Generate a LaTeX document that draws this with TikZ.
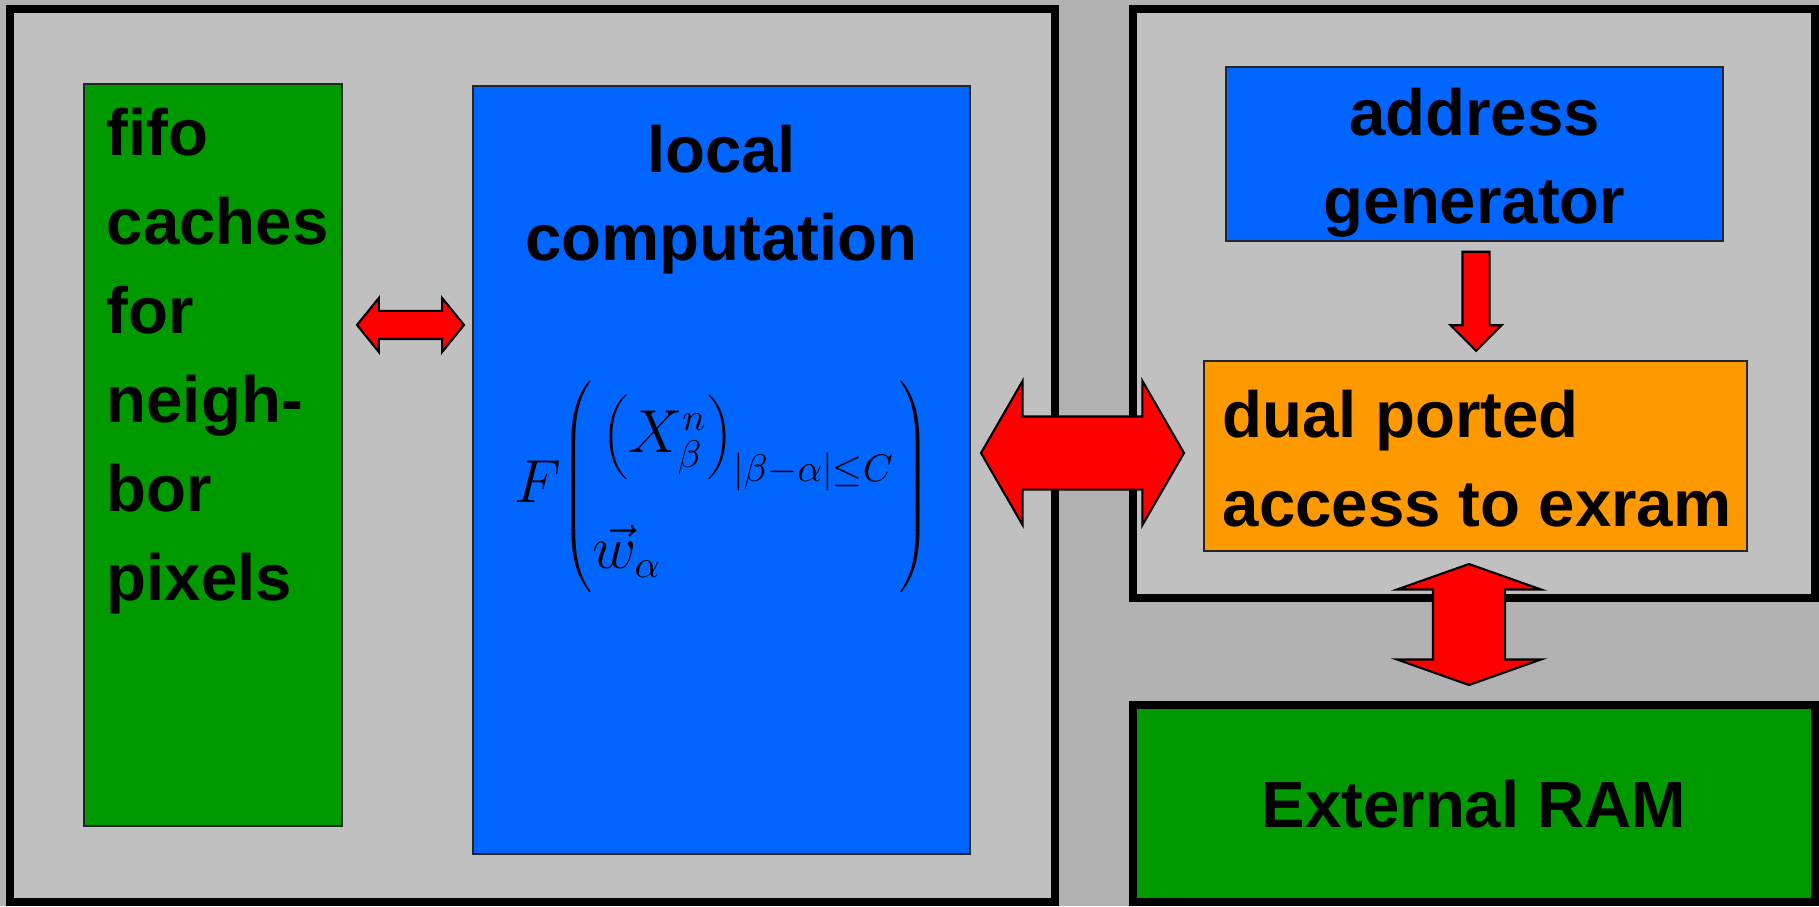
\documentclass[tikz,border=0pt]{standalone}
\usepackage{fontspec}
\setmainfont{Liberation Sans}
\usetikzlibrary{shapes.arrows}
\DeclareMathSizes{17.4}{17.4}{10.6}{8}
\definecolor{bggray}{RGB}{178,178,178}
\definecolor{panelgray}{RGB}{192,192,192}
\definecolor{ramgreen}{RGB}{0,153,0}
\definecolor{unitblue}{RGB}{0,102,255}
\definecolor{portorange}{RGB}{255,153,0}
\definecolor{arrowred}{RGB}{255,0,0}

\begin{document}
\begin{tikzpicture}[
  panel/.style={draw, line width=0.08cm, fill=panelgray, inner sep=0pt},
  box/.style={draw=black!85, line width=0.45pt, inner sep=0pt},
  lbl/.style={inner sep=0pt, font=\fontsize{18.6}{25.3}\selectfont\bfseries},
  dblarrow/.style={double arrow, draw, line width=0.6pt, fill=arrowred},
  sglarrow/.style={single arrow, draw, line width=0.6pt, fill=arrowred}
]

\fill[bggray] (0,0) rectangle (18.19,9.06);
\useasboundingbox (0,0) rectangle (18.19,9.06);

\node[panel, minimum width=10.45cm, minimum height=8.93cm] (pe) at (5.325,4.505) {};
\node[panel, minimum width=6.82cm, minimum height=5.89cm] (ctrl) at (14.74,6.025) {};
\node[panel, fill=ramgreen, minimum width=6.82cm, minimum height=1.97cm] (exram) at (14.74,1.025) {};

\node[box, fill=ramgreen, minimum width=2.58cm, minimum height=7.42cm] (fifo) at (2.13,4.51) {};
\node[box, fill=unitblue, minimum width=4.97cm, minimum height=7.68cm] (local) at (7.215,4.36) {};
\node[box, fill=unitblue, minimum width=4.97cm, minimum height=1.74cm] (addr) at (14.745,7.52) {};
\node[box, fill=portorange, minimum width=5.43cm, minimum height=1.90cm] (dual) at (14.755,4.50) {};

% base anchor = baseline of the last line
\node[lbl, anchor=base west, align=left] (fifotxt) at (1.06,3.06) {fifo\\caches\\for\\neigh-\\bor\\pixels};
\node[lbl, anchor=base, align=center] (localtxt) at (7.215,6.45) {local\\computation};
\node[lbl, anchor=base, align=center] (addrtxt) at (14.745,6.82) {address\\generator};
\node[lbl, anchor=base west, align=left] (dualtxt) at (12.22,3.80) {dual ported\\access to exram};
\node[lbl, anchor=base] (ramtxt) at (14.74,0.79) {External RAM};

\node[inner sep=0pt, anchor=base west, font=\fontsize{17.4}{21}\selectfont] (formula) at (5.14,4.04)
  {\delimiterfactor=1000 \delimitershortfall=0pt \renewcommand{\arraystretch}{0}%
   $F\!\left(\begin{array}{@{}l@{\hspace{0.05cm}}}
     \rule[-0.45cm]{0pt}{1.155cm}\left(X^{n}_{\beta}\right)_{|\beta-\alpha|\le C}\\
     \rule[-0.235cm]{0pt}{0.945cm}\vec{w}_{\alpha}
   \end{array}\right)$};

% block arrows: inner sep = half the shaft
\node[dblarrow, inner sep=0.13cm, minimum height=1.07cm, minimum width=0.52cm, double arrow head extend=0.13cm, double arrow tip angle=102] (cachelink) at (4.105,5.81) {};
\node[sglarrow, inner sep=0.125cm, shape border rotate=270, minimum height=0.99cm, minimum width=0.49cm, single arrow head extend=0.12cm, single arrow tip angle=90] (addrlink) at (14.76,6.115) {};
\node[dblarrow, inner sep=0.355cm, minimum height=2.03cm, minimum width=1.42cm, double arrow head extend=0.355cm, double arrow tip angle=120] (memlink) at (10.825,4.53) {};
\node[dblarrow, inner sep=0.35cm, shape border rotate=90, minimum height=1.21cm, minimum width=1.42cm, double arrow head extend=0.36cm, double arrow tip angle=141] (ramlink) at (14.69,2.815) {};

\end{tikzpicture}
\end{document}
